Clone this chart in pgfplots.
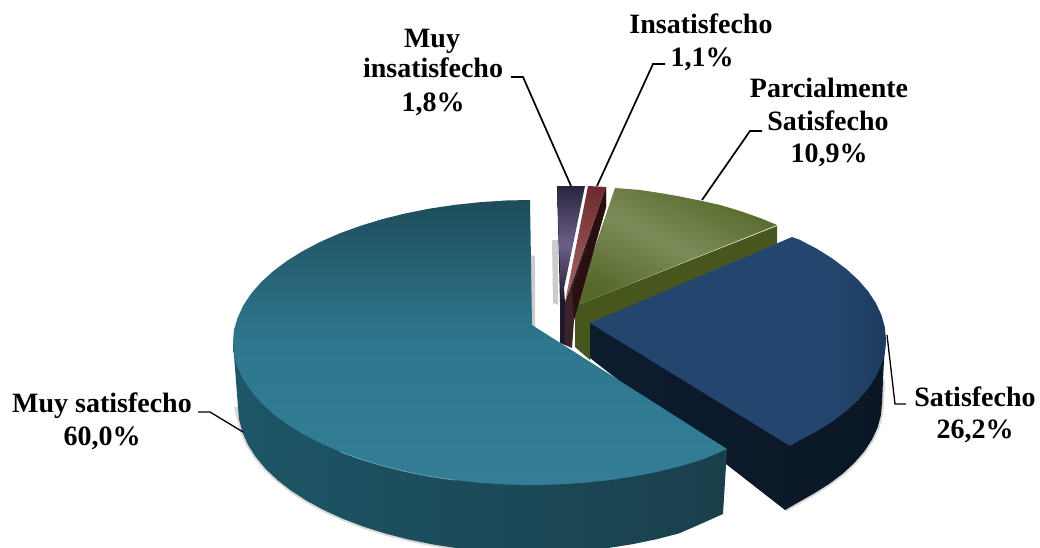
\documentclass[border=0pt]{standalone}
\usepackage{pgfplots}
\usepackage{fontspec}
\setmainfont{Liberation Serif}
\pgfplotsset{compat=1.18}
\definecolor{tA}{HTML}{337E96}
\definecolor{tB}{HTML}{2E778E}
\definecolor{tC}{HTML}{286679}
\definecolor{tD}{HTML}{1D4C5A}
\pgfdeclareverticalshading{tealtop}{100bp}{color(0bp)=(tA); color(25bp)=(tA); color(50bp)=(tB); color(61bp)=(tC); color(75bp)=(tD); color(100bp)=(tD)}
\definecolor{bA}{HTML}{24466E}
\definecolor{bB}{HTML}{1C3A5C}
\pgfdeclarehorizontalshading{bluetop}{100bp}{color(0bp)=(bA); color(25bp)=(bA); color(66bp)=(bA); color(75bp)=(bB); color(100bp)=(bB)}
\definecolor{sd}{HTML}{0C1D30}
\definecolor{sdd}{HTML}{0A1624}
\definecolor{gL}{HTML}{7C8C58}
\definecolor{gD}{HTML}{56672A}
\definecolor{gS}{HTML}{46561C}
\definecolor{gSL}{HTML}{656C48}
\definecolor{pT}{HTML}{2A2440}
\definecolor{pM}{HTML}{6B6087}
\definecolor{pB}{HTML}{1E1A2C}
\definecolor{rT}{HTML}{6E2A2C}
\definecolor{rB}{HTML}{A56A68}
\definecolor{rS}{HTML}{2A0F10}
\definecolor{rL}{HTML}{3B2429}
\definecolor{sL}{HTML}{1D5667}
\definecolor{sM}{HTML}{225363}
\definecolor{sR}{HTML}{1A3F4B}
\newcommand{\lab}[3]{\node[font=\fontsize{28}{28}\selectfont\bfseries,inner sep=0pt,anchor=base] at (axis cs:#1,#2) {#3};}
\begin{document}
\begin{tikzpicture}
\path[use as bounding box] (0,0) rectangle (1040pt,548pt);
\begin{axis}[at={(0,0)},anchor=south west,scale only axis,width=1040pt,height=548pt,xmin=0,xmax=1040,ymin=0,ymax=548,y dir=reverse,hide axis,clip=true]
% soft shadows
\addplot[fill=gray,opacity=.4,draw=none] coordinates {(530,255)(535,256)(535,328)(530,325)} -- cycle;
\addplot[fill=gray,opacity=.4,draw=none] coordinates {(552,240)(558,240)(558,305)(553,303)} -- cycle;
\addplot[gray,opacity=.3,line width=4pt] coordinates {(236,407)(239.1,419.7)(242.5,432.3)(248,444.8)(255.7,456.9)(265.5,468.7)(277.4,480)(291.2,490.7)(306.8,500.8)(324.1,510.2)(343,518.8)(363.4,526.6)(385,533.4)(407.8,539.3)(431.5,544.2)(455.9,548)};
\addplot[gray,opacity=.3,line width=4pt] coordinates {(785,510)(813.7,493.6)(829.2,483.9)(842.9,473.5)(854.6,462.6)(864.4,451.2)(872,439.5)(877.6,427.5)(880.9,415.3)(882,403)(883,380)};
% green slice
\addplot[left color=gS,middle color=gSL,right color=gS,draw=none] coordinates {(575,306)(777,226)(777,243.5)(590,324)(590,360)(575,347)} -- cycle;
\addplot[top color=gD,bottom color=gD,middle color=gL,shading angle=-25,draw=none] coordinates {(575,306)(615,188)(640,190)(660,193)(680,196.5)(702,201)(720,205)(740,211)(760,218)(777,225)} -- cycle;
% purple slice
\addplot[fill=pB,draw=none] coordinates {(557,186)(560,303)(560,343)(565,345)(565,303)} -- cycle;
\addplot[top color=pT,bottom color=pB,middle color=pM,draw=none] coordinates {(557,186)(585,186)(561,303)} -- cycle;
% red slice
\addplot[fill=rL,draw=none] coordinates {(565,302)(565,345)(572,348)(574,320)(606,207)(606,187)} -- cycle;
\addplot[fill=rS,draw=none] coordinates {(574,320)(606,207)(606,187)(572,290)} -- cycle;
\addplot[top color=rT,bottom color=rB,draw=none] coordinates {(588,186)(606,187)(565,302)} -- cycle;
% blue slice
\addplot[left color=sd,right color=sdd,draw=none] coordinates {(590,323)(590,358)(785,510)(813.7,493.6)(829.2,483.9)(842.9,473.5)(854.6,462.6)(864.4,451.2)(872,439.5)(877.6,427.5)(880.9,415.3)(882,403)(883,380)(884,360)(886,340)} -- cycle;
\addplot[shade,shading=bluetop,draw=none] coordinates {(590,323)(792,237)(799.3,239.6)(816.7,248.7)(832.5,258.6)(846.3,269)(858.3,280)(868.2,291.4)(875.9,303.2)(881.5,315.3)(884.9,327.6)(886,340)(884.9,352.4)(881.5,364.7)(875.9,376.8)(868.2,388.6)(858.3,400)(846.3,411)(832.5,421.4)(816.7,431.3)(799.3,440.4)(790,446)} -- cycle;
% teal slice
\addplot[left color=sL,middle color=sM,right color=sR,draw=none] coordinates {(233,342.5)(238,407)(239.1,419.7)(242.5,432.3)(248,444.8)(255.7,456.9)(265.5,468.7)(277.4,480)(291.2,490.7)(306.8,500.8)(324.1,510.2)(343,518.8)(363.4,526.6)(385,533.4)(407.8,539.3)(431.5,544.2)(455.9,548)(481,550.8)(506.4,552.4)(532,553)(557.6,552.4)(583,550.8)(608.1,548)(632.5,544.2)(656.2,539.3)(679,533.4)(700.6,524)(723,514)(727,449)(532,400)} -- cycle;
\addplot[shade,shading=tealtop,draw=none] coordinates {(532,325)(727,449)(703.5,459.2)(681.5,465.9)(658.4,471.6)(634.3,476.4)(609.4,480.1)(583.9,482.8)(558.1,484.5)(532,485)(505.9,484.5)(480.1,482.8)(454.6,480.1)(429.7,476.4)(405.6,471.6)(382.5,465.9)(360.5,459.2)(339.8,451.7)(320.6,443.3)(303,434.1)(287.1,424.2)(273,413.8)(261,402.7)(251,391.2)(243.2,379.4)(237.6,367.2)(233.9,354.9)(233,342.5)(233.9,330.1)(237.6,317.8)(243.2,305.6)(251,293.8)(261,282.3)(273,271.3)(287.1,260.8)(303,250.9)(320.6,241.7)(339.8,233.3)(360.5,225.8)(382.5,219.1)(405.6,213.4)(429.7,208.6)(454.6,204.9)(480.1,202.2)(505.9,200.5)(530,200)} -- cycle;
\addplot[color=tA!70!white,line width=.7pt] coordinates {(339.8,451.7)(360.5,459.2)(382.5,465.9)(405.6,471.6)(429.7,476.4)(454.6,480.1)};
% leader lines
\addplot[black,line width=1.7pt] coordinates {(511,77)(523,77)(571,186)};
\addplot[black,line width=1.7pt] coordinates {(665,64)(653,64)(597,186)};
\addplot[black,line width=1.7pt] coordinates {(762,131)(750,131)(702,200)};
\addplot[black,line width=1.3pt] coordinates {(906,404)(895,404)(887,335)};
\addplot[black,line width=1.3pt] coordinates {(198,412)(210,412)(243,432)};
% labels
\lab{432}{48}{Muy}
\lab{433}{78}{insatisfecho}
\lab{433}{112}{1,8\%}
\lab{701}{34}{Insatisfecho}
\lab{702}{67}{1,1\%}
\lab{829}{98}{Parcialmente}
\lab{828}{131}{Satisfecho}
\lab{829}{163}{10,9\%}
\lab{975}{406}{Satisfecho}
\lab{975}{438}{26,2\%}
\lab{102}{412}{Muy satisfecho}
\lab{102}{445}{60,0\%}
\end{axis}
\end{tikzpicture}
\end{document}
